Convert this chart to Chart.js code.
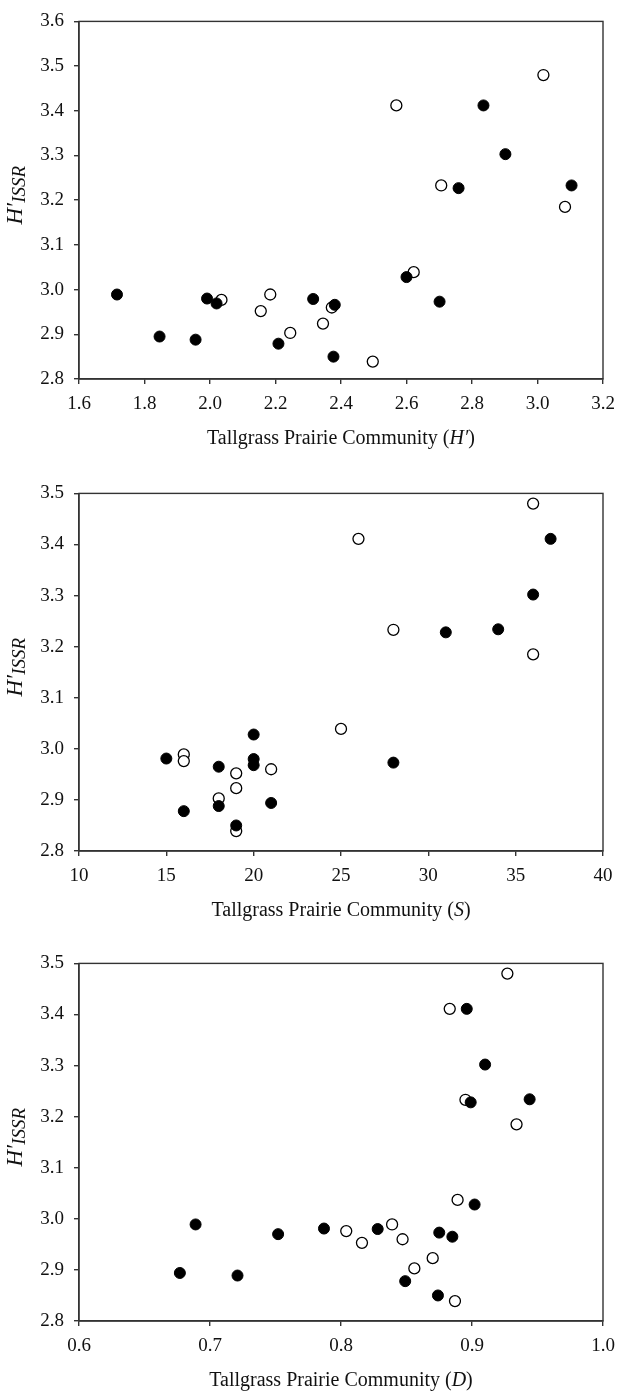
<!DOCTYPE html>
<html>
<head>
<meta charset="utf-8">
<script src="https://cdn.jsdelivr.net/npm/chart.js@4/dist/chart.umd.min.js"></script>
<style>
  html, body { margin: 0; padding: 0; background: #fff; overflow: hidden; }
  .panel { position: absolute; left: 0; width: 625px; height: 460px; }
</style>
</head>
<body>
<div class="panel" style="top:0px"><canvas id="chartH" width="625" height="460"></canvas></div>
<div class="panel" style="top:472px"><canvas id="chartS" width="625" height="460"></canvas></div>
<div class="panel" style="top:942px"><canvas id="chartD" width="625" height="460"></canvas></div>
<script>
// Genetic diversity (H'ISSR) vs tallgrass prairie community measures

// Panel 1: Shannon diversity H'
const hFilledX = [1.716, 1.846, 1.956, 1.991, 2.020, 2.209, 2.315, 2.381, 2.377, 2.600, 2.701, 2.759, 3.104, 2.902, 2.835];
const hFilledY = [2.989, 2.895, 2.888, 2.980, 2.969, 2.879, 2.979, 2.966, 2.850, 3.028, 2.973, 3.227, 3.233, 3.303, 3.412];
const hOpenX = [2.035, 2.155, 2.184, 2.245, 2.345, 2.372, 2.497, 2.622, 2.706, 3.084, 2.569, 3.018];
const hOpenY = [2.977, 2.952, 2.989, 2.903, 2.924, 2.960, 2.839, 3.039, 3.233, 3.185, 3.412, 3.480];
const hTicksX = [1.6, 1.8, 2.0, 2.2, 2.4, 2.6, 2.8, 3.0, 3.2];
const hTicksY = [2.8, 2.9, 3.0, 3.1, 3.2, 3.3, 3.4, 3.5, 3.6];

// Panel 2: species richness S
const sFilledX = [15, 16, 18, 18, 19, 20, 20, 20, 21, 28, 31, 34, 36, 37];
const sFilledY = [2.981, 2.878, 2.965, 2.888, 2.850, 3.028, 2.980, 2.968, 2.894, 2.973, 3.228, 3.234, 3.302, 3.411];
const sOpenX = [16, 16, 18, 19, 19, 19, 21, 25, 26, 28, 36, 36];
const sOpenY = [2.989, 2.976, 2.903, 2.952, 2.923, 2.839, 2.960, 3.039, 3.411, 3.233, 3.480, 3.185];
const sTicksX = [10, 15, 20, 25, 30, 35, 40];
const sTicksY = [2.8, 2.9, 3.0, 3.1, 3.2, 3.3, 3.4, 3.5];

// Panel 3: Simpson's D
const dFilledX = [0.677, 0.689, 0.721, 0.752, 0.787, 0.828, 0.849, 0.874, 0.875, 0.885, 0.902, 0.896, 0.910, 0.899, 0.944];
const dFilledY = [2.894, 2.989, 2.889, 2.970, 2.981, 2.980, 2.878, 2.850, 2.973, 2.965, 3.028, 3.411, 3.302, 3.228, 3.234];
const dOpenX = [0.804, 0.816, 0.839, 0.847, 0.856, 0.870, 0.889, 0.887, 0.883, 0.927, 0.895, 0.934];
const dOpenY = [2.976, 2.953, 2.989, 2.960, 2.903, 2.923, 3.037, 2.839, 3.411, 3.480, 3.233, 3.185];
const dTicksX = [0.6, 0.7, 0.8, 0.9, 1.0];
const dTicksY = [2.8, 2.9, 3.0, 3.1, 3.2, 3.3, 3.4, 3.5];

const SERIF = '"Liberation Serif", "Times New Roman", serif';
const INK = '#111';
const FRAME = '#333';

Chart.defaults.font.family = SERIF;

function zip(xs, ys) {
  return xs.map((x, i) => ({ x: x, y: ys[i] }));
}

// box round the plot area (top and right sides have no ticks)
const framePlugin = {
  id: 'frame',
  afterDraw(chart) {
    const a = chart.chartArea;
    const ctx = chart.ctx;
    ctx.save();
    ctx.strokeStyle = FRAME;
    ctx.lineWidth = 1.4;
    ctx.strokeRect(a.left, a.top, a.right - a.left, a.bottom - a.top);
    ctx.restore();
  }
};

// axis titles with italic symbols and a subscript
const titlePlugin = {
  id: 'axisTitles',
  afterDraw(chart, args, opts) {
    const a = chart.chartArea;
    const ctx = chart.ctx;
    ctx.save();
    ctx.fillStyle = INK;
    ctx.textBaseline = 'alphabetic';
    ctx.textAlign = 'left';

    // x title
    const parts = [
      { t: 'Tallgrass Prairie Community (', f: '20px ' + SERIF },
      { t: opts.symbol, f: 'italic 20px ' + SERIF },
      { t: ')', f: '20px ' + SERIF }
    ];
    let total = 0;
    parts.forEach(p => { ctx.font = p.f; p.w = ctx.measureText(p.t).width; total += p.w; });
    let x = (a.left + a.right) / 2 - total / 2;
    const base = a.bottom + 65;
    parts.forEach(p => { ctx.font = p.f; ctx.fillText(p.t, x, base); x += p.w; });

    // y title, rotated
    ctx.translate(22, (a.top + a.bottom) / 2 - 5);
    ctx.rotate(-Math.PI / 2);
    ctx.font = 'italic 23px ' + SERIF;
    const w1 = ctx.measureText('H\u2032').width;
    ctx.font = 'italic 19px ' + SERIF;
    const w2 = ctx.measureText('ISSR').width;
    const start = -(w1 + w2) / 2;
    ctx.font = 'italic 23px ' + SERIF;
    ctx.fillText('H\u2032', start, 0);
    ctx.font = 'italic 19px ' + SERIF;
    ctx.fillText('ISSR', start + w1, 3);
    ctx.restore();
  }
};

function makeAxis(tickValues, digits, fit) {
  return {
    type: 'linear',
    min: tickValues[0],
    max: tickValues[tickValues.length - 1],
    afterBuildTicks: axis => { axis.ticks = tickValues.map(v => ({ value: v })); },
    afterFit: fit,
    grid: { drawOnChartArea: false, drawTicks: true, tickLength: 5, color: FRAME, lineWidth: 1.4 },
    border: { display: true, color: FRAME, width: 1.4 },
    ticks: {
      color: INK,
      font: { family: SERIF, size: 19 },
      autoSkip: false,
      maxRotation: 0,
      padding: 9,
      callback: v => Number(v).toFixed(digits)
    }
  };
}

function makeChart(id, fx, fy, ox, oy, ticksX, ticksY, xDigits, symbol) {
  const xAxis = makeAxis(ticksX, xDigits, s => { s.height = 81; });
  const yAxis = makeAxis(ticksY, 1, s => { s.width = 79; });
  yAxis.ticks.padding = 10;
  return new Chart(document.getElementById(id), {
    type: 'scatter',
    data: {
      datasets: [
        {
          label: 'filled',
          data: zip(fx, fy),
          pointRadius: 5.5,
          pointBackgroundColor: '#000',
          pointBorderColor: '#000',
          pointBorderWidth: 1
        },
        {
          label: 'open',
          data: zip(ox, oy),
          pointRadius: 5.5,
          pointBackgroundColor: '#fff',
          pointBorderColor: '#000',
          pointBorderWidth: 1.3
        }
      ]
    },
    options: {
      responsive: false,
      animation: false,
      layout: { padding: { top: 11, right: 22, left: 0, bottom: 0 } },
      plugins: {
        legend: { display: false },
        tooltip: { enabled: false },
        axisTitles: { symbol: symbol }
      },
      scales: { x: xAxis, y: yAxis }
    },
    plugins: [framePlugin, titlePlugin]
  });
}

makeChart('chartH', hFilledX, hFilledY, hOpenX, hOpenY, hTicksX, hTicksY, 1, 'H\u2032');
makeChart('chartS', sFilledX, sFilledY, sOpenX, sOpenY, sTicksX, sTicksY, 0, 'S');
makeChart('chartD', dFilledX, dFilledY, dOpenX, dOpenY, dTicksX, dTicksY, 1, 'D');
</script>
</body>
</html>
